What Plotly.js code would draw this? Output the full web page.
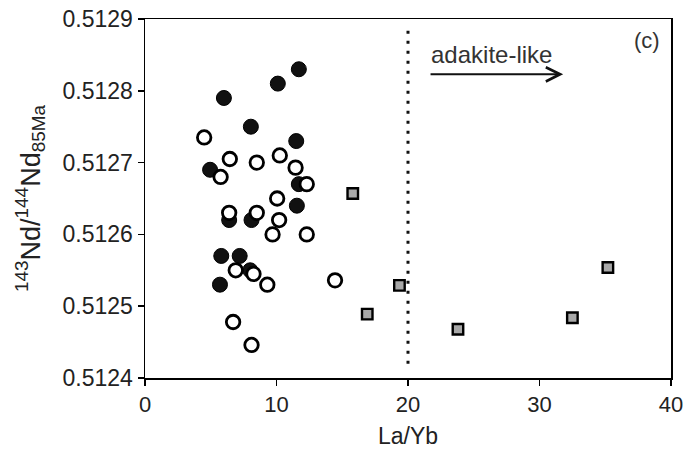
<!DOCTYPE html>
<html>
<head>
<meta charset="utf-8">
<script src="https://cdn.plot.ly/plotly-3.0.1.min.js"></script>
<style>html,body{margin:0;padding:0;background:#fff;}#chart{width:686px;height:452px;}</style>
</head>
<body>
<div id="chart"></div>
<script>
// Filled circles
var filledX = [6.0, 10.1, 11.7, 8.05, 11.5, 4.95, 11.7, 11.55, 6.4, 8.1, 5.8, 7.2, 5.7, 8.0];
var filledY = [0.51279, 0.51281, 0.51283, 0.51275, 0.51273, 0.51269, 0.51267, 0.51264, 0.51262, 0.51262, 0.51257, 0.51257, 0.51253, 0.51255];
// Open circles
var openX = [4.5, 6.45, 8.5, 10.25, 5.75, 11.45, 12.3, 10.05, 6.4, 8.5, 10.2, 9.7, 12.3, 6.9, 8.25, 9.3, 14.45, 6.7, 8.1];
var openY = [0.512735, 0.512705, 0.5127, 0.51271, 0.51268, 0.512693, 0.51267, 0.51265, 0.51263, 0.51263, 0.51262, 0.5126, 0.5126, 0.51255, 0.512545, 0.51253, 0.512536, 0.512478, 0.512446];
// Grey squares
var squareX = [15.8, 19.35, 16.9, 23.8, 32.5, 35.2];
var squareY = [0.512657, 0.512529, 0.512489, 0.512468, 0.512484, 0.512554];
// Threshold and labels
var thresholdX = 20;
var arrowFromX = 21.6, arrowToX = 31.8, arrowY = 0.512823;
var labelY = 0.51285;
var labelText = "adakite-like";
var panelLabel = "(c)";
var xTicks = [0, 10, 20, 30, 40];
var yTicks = [0.5124, 0.5125, 0.5126, 0.5127, 0.5128, 0.5129];

var font = "Liberation Sans, Arial, sans-serif";

var traces = [
  {x: filledX, y: filledY, type: 'scatter', mode: 'markers', hoverinfo: 'skip',
   marker: {symbol: 'circle', size: 15, color: '#111', line: {color: '#000', width: 1}}},
  {x: openX, y: openY, type: 'scatter', mode: 'markers', hoverinfo: 'skip',
   marker: {symbol: 'circle', size: 13.5, color: '#fff', line: {color: '#000', width: 2.8}}},
  {x: squareX, y: squareY, type: 'scatter', mode: 'markers', hoverinfo: 'skip',
   marker: {symbol: 'square', size: 10.5, color: '#a8a8a8', line: {color: '#000', width: 2.4}}}
];

var layout = {
  width: 686, height: 452,
  margin: {l: 145, r: 15, t: 19, b: 74},
  paper_bgcolor: '#fff', plot_bgcolor: '#fff',
  showlegend: false,
  font: {family: font, color: '#222'},
  xaxis: {
    range: [0, 40], tickvals: xTicks, ticktext: xTicks.map(String),
    showgrid: false, zeroline: false, showline: true, mirror: true,
    linecolor: '#000', linewidth: 1.5, ticks: 'outside', ticklen: 6, tickwidth: 1.5, tickcolor: '#000',
    tickfont: {size: 22, family: font, color: '#222'},
    title: {text: 'La/Yb', font: {size: 23, family: font, color: '#222'}, standoff: 12}
  },
  yaxis: {
    range: [0.5124, 0.5129], tickvals: yTicks, ticktext: yTicks.map(function(v){return v.toFixed(4);}),
    showgrid: false, zeroline: false, showline: true, mirror: true,
    linecolor: '#000', linewidth: 1.5, ticks: 'outside', ticklen: 6, tickwidth: 1.5, tickcolor: '#000',
    tickfont: {size: 23, family: font, color: '#222'},
    title: {text: '<sup>143</sup>Nd/<sup>144</sup>Nd<sub>85Ma</sub>', font: {size: 27, family: font, color: '#222'}, standoff: 14}
  },
  shapes: [
    {type: 'line', xref: 'x', yref: 'paper', x0: thresholdX, x1: thresholdX, y0: 0.04, y1: 0.975,
     line: {color: '#111', width: 3, dash: '3px,7px'}}
  ],
  annotations: [
    {xref: 'x', yref: 'y', x: arrowToX, y: arrowY, ax: arrowFromX, ay: arrowY, axref: 'x', ayref: 'y',
     showarrow: true, arrowhead: 5, arrowsize: 1.4, arrowwidth: 2, arrowcolor: '#111', text: ''},
    {xref: 'x', yref: 'y', x: arrowFromX, y: labelY, xanchor: 'left', yanchor: 'middle', showarrow: false,
     text: labelText, font: {size: 24, family: font, color: '#333'}},
    {xref: 'paper', yref: 'paper', x: 0.955, y: 0.94, xanchor: 'center', yanchor: 'middle', showarrow: false,
     text: panelLabel, font: {size: 22, family: font, color: '#333'}}
  ]
};

Plotly.newPlot('chart', traces, layout, {displayModeBar: false, staticPlot: true});
</script>
</body>
</html>
